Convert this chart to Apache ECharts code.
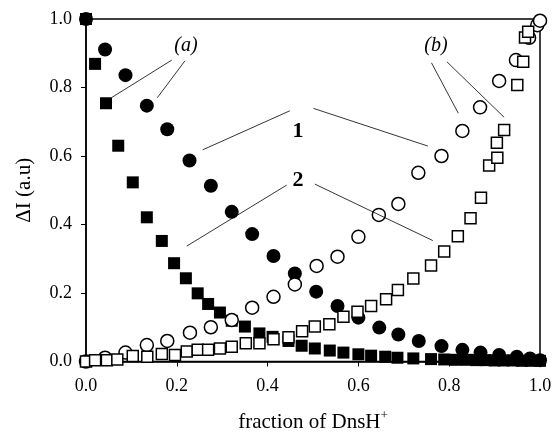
<!DOCTYPE html>
<html>
<head>
<meta charset="utf-8">
<script src="https://cdn.jsdelivr.net/npm/echarts@6/dist/echarts.min.js"></script>
<style>
  html, body { margin: 0; padding: 0; background: #fff; }
  #chart { width: 555px; height: 439px; }
</style>
</head>
<body>
<div id="chart"></div>
<script>
// (a) filled markers
var filledCircles = [[0, 1.0], [0.042, 0.911], [0.087, 0.836], [0.134, 0.747], [0.179, 0.678], [0.228, 0.587],
  [0.275, 0.513], [0.321, 0.437], [0.366, 0.372], [0.413, 0.308], [0.460, 0.257], [0.507, 0.204],
  [0.554, 0.162], [0.600, 0.128], [0.646, 0.099], [0.688, 0.079], [0.733, 0.060], [0.783, 0.045],
  [0.829, 0.034], [0.869, 0.026], [0.910, 0.019], [0.949, 0.014], [0.978, 0.009], [1.0, 0.004]];
var filledSquares = [[0, 1.0], [0.020, 0.869], [0.044, 0.754], [0.071, 0.630], [0.103, 0.523], [0.134, 0.421],
  [0.167, 0.352], [0.194, 0.287], [0.220, 0.243], [0.246, 0.199], [0.269, 0.168], [0.295, 0.143],
  [0.321, 0.119], [0.350, 0.102], [0.382, 0.082], [0.411, 0.072], [0.446, 0.060], [0.475, 0.046],
  [0.504, 0.038], [0.537, 0.032], [0.567, 0.026], [0.600, 0.021], [0.628, 0.017], [0.659, 0.014],
  [0.686, 0.011], [0.721, 0.009], [0.760, 0.007], [0.789, 0.006], [0.815, 0.005], [0.840, 0.005],
  [0.860, 0.004], [0.880, 0.004], [0.900, 0.003], [0.920, 0.003], [0.940, 0.003], [0.960, 0.002],
  [0.980, 0.002], [1.0, 0.002]];
// (b) open markers
var openCircles = [[0, 0], [0.042, 0.011], [0.087, 0.026], [0.134, 0.048], [0.179, 0.060], [0.229, 0.084],
  [0.275, 0.100], [0.321, 0.121], [0.366, 0.157], [0.413, 0.189], [0.460, 0.225], [0.508, 0.279],
  [0.554, 0.306], [0.600, 0.364], [0.645, 0.428], [0.688, 0.460], [0.732, 0.551], [0.783, 0.600],
  [0.829, 0.673], [0.868, 0.742], [0.910, 0.819], [0.947, 0.880], [0.976, 0.945], [0.994, 0.982], [1.0, 0.995]];
var openSquares = [[0, 0], [0.020, 0.004], [0.046, 0.004], [0.069, 0.006], [0.103, 0.016], [0.135, 0.014],
  [0.167, 0.022], [0.196, 0.019], [0.222, 0.029], [0.246, 0.034], [0.269, 0.034], [0.295, 0.038],
  [0.321, 0.043], [0.352, 0.053], [0.382, 0.053], [0.413, 0.065], [0.446, 0.071], [0.476, 0.088],
  [0.504, 0.102], [0.536, 0.109], [0.567, 0.131], [0.598, 0.145], [0.628, 0.162], [0.661, 0.182],
  [0.687, 0.209], [0.721, 0.242], [0.760, 0.280], [0.789, 0.321], [0.819, 0.366], [0.847, 0.418],
  [0.870, 0.478], [0.888, 0.572], [0.906, 0.595], [0.905, 0.639], [0.921, 0.676], [0.950, 0.807],
  [0.963, 0.875], [0.967, 0.946], [0.974, 0.963]];
// annotation texts and leader lines (data coordinates)
var labels = [
  { text: '(a)', pos: [0.220, 0.921], style: 'italic' },
  { text: '(b)', pos: [0.771, 0.921], style: 'italic' },
  { text: '1', pos: [0.467, 0.673], style: 'bold' },
  { text: '2', pos: [0.467, 0.530], style: 'bold' }
];
var leaders = [
  [[0.189, 0.880], [0.057, 0.771]], [[0.218, 0.878], [0.157, 0.770]],
  [[0.761, 0.872], [0.820, 0.725]], [[0.795, 0.875], [0.921, 0.713]],
  [[0.449, 0.732], [0.257, 0.618]], [[0.501, 0.739], [0.753, 0.629]],
  [[0.442, 0.515], [0.222, 0.337]], [[0.504, 0.518], [0.764, 0.353]]
];

var font = 'Liberation Serif';
var myChart = echarts.init(document.getElementById('chart'));
var option = {
  animation: false,
  grid: {
    left: 86, right: 15, top: 19, bottom: 77.5,
    show: true, borderColor: '#000', borderWidth: 1.5, backgroundColor: 'transparent'
  },
  xAxis: {
    type: 'value', min: 0, max: 1, interval: 0.2,
    splitLine: { show: false },
    axisLine: { lineStyle: { color: '#000', width: 1.5 } },
    axisTick: { inside: false, length: 5, lineStyle: { color: '#000', width: 1 } },
    axisLabel: { color: '#000', fontFamily: font, fontSize: 18, margin: 16,
      formatter: function (v) { return v.toFixed(1); } },
    name: 'fraction of DnsH{sup|+}',
    nameLocation: 'middle', nameGap: 48,
    nameTextStyle: { color: '#000', fontFamily: font, fontSize: 21,
      rich: { sup: { fontFamily: font, fontSize: 13, verticalAlign: 'top', padding: [0, 0, 12, 0], color: '#000' } } }
  },
  yAxis: {
    type: 'value', min: 0, max: 1, interval: 0.2,
    splitLine: { show: false },
    axisLine: { lineStyle: { color: '#000', width: 1.5 } },
    axisTick: { inside: false, length: 5, lineStyle: { color: '#000', width: 1 } },
    axisLabel: { color: '#000', fontFamily: font, fontSize: 18, margin: 14,
      formatter: function (v) { return v.toFixed(1); } },
    name: 'ΔI (a.u)',
    nameLocation: 'middle', nameGap: 51, nameRotate: 90,
    nameTextStyle: { color: '#000', fontFamily: font, fontSize: 21 }
  },
  series: [
    {
      name: 'lines', type: 'scatter', data: [], silent: true,
      markLine: {
        silent: true, symbol: ['none', 'none'],
        lineStyle: { color: '#000', width: 0.8, type: 'solid', opacity: 1 },
        label: { show: false },
        data: leaders.map(function (l) { return [{ coord: l[0] }, { coord: l[1] }]; })
      }
    },
    {
      name: '2a', type: 'scatter', symbol: 'rect', symbolSize: 12, data: filledSquares,
      itemStyle: { color: '#000', opacity: 1 }
    },
    {
      name: '1a', type: 'scatter', symbol: 'circle', symbolSize: 14, data: filledCircles,
      itemStyle: { color: '#000', opacity: 1 }
    },
    {
      name: '1b', type: 'scatter', symbol: 'circle', symbolSize: 13, data: openCircles,
      itemStyle: { color: '#fff', borderColor: '#000', borderWidth: 1.5, opacity: 1 }
    },
    {
      name: '2b', type: 'scatter', symbol: 'rect', symbolSize: 11, data: openSquares,
      itemStyle: { color: '#fff', borderColor: '#000', borderWidth: 1.5, opacity: 1 }
    },
    {
      name: 'text', type: 'scatter', symbolSize: 1, silent: true,
      itemStyle: { color: 'transparent', opacity: 1 },
      data: labels.map(function (l) {
        return {
          value: l.pos,
          label: {
            show: true, position: 'inside', formatter: l.text, color: '#000', opacity: 1,
            fontFamily: font, fontSize: l.style === 'bold' ? 22 : 20,
            fontStyle: l.style === 'italic' ? 'italic' : 'normal',
            fontWeight: l.style === 'bold' ? 'bold' : 'normal'
          }
        };
      })
    }
  ]
};
myChart.setOption(option);
window.addEventListener('resize', function () {
  myChart.resize();
});
</script>
</body>
</html>
